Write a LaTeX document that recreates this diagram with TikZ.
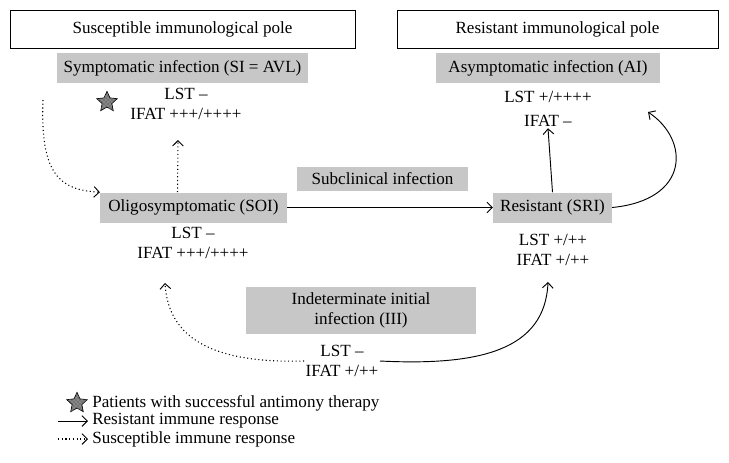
\documentclass[tikz,border=0pt]{standalone}
\usepackage{fontspec}
\setmainfont{Liberation Serif}
\usetikzlibrary{shapes,arrows.meta,positioning,patterns}

\begin{document}
\begin{tikzpicture}[
    x=0.75pt, y=-0.75pt,
    font=\fontsize{12.8}{15}\selectfont,
    pole/.style={rectangle, draw, line width=0.7pt, minimum height=28.5pt, inner sep=0pt},
    grey/.style={rectangle, fill=black!22, minimum height=22.5pt, inner sep=0pt},
    lab/.style={align=center, inner sep=1pt},
    res/.style={-{Straight Barb[length=4pt,width=8pt,line width=0.7pt]}, line width=0.7pt},
    sus/.style={-{Straight Barb[length=4pt,width=8pt,line width=0.7pt]}, line width=0.8pt, dotted},
    therapy/.style={star, star points=5, star point ratio=2.1, draw, line width=0.5pt, minimum size=16pt, inner sep=0pt, fill=black!55, postaction={pattern=crosshatch dots, pattern color=white!80!black}}
]
\useasboundingbox (0,0) rectangle (729,462);

% Poles
\node[pole, minimum width=258.75pt] (suspole) at (182.5,29) {Susceptible immunological pole};
\node[pole, minimum width=240.75pt] (respole) at (557.5,29) {Resistant immunological pole};

% Infection stages
\node[grey, minimum width=188pt] (si) at (182.5,68) {Symptomatic infection (SI = AVL)};
\node[lab] (silab) at (186,104) {LST --\\IFAT +++/++++};
\node[therapy] (star) at (107,102) {};

\node[grey, minimum width=168pt] (ai) at (548,68) {Asymptomatic infection (AI)};
\node[lab, align=center] (ailab) at (548,109) {LST +/++++\\[3pt]IFAT --};

\node[grey, minimum width=140pt] (soi) at (193.5,207.5) {Oligosymptomatic (SOI)};
\node[lab] (soilab) at (193,243) {LST --\\IFAT +++/++++};

\node[grey, minimum width=128pt, minimum height=18pt] (sub) at (382.5,179) {Subclinical infection};

\node[grey, minimum width=89pt] (sri) at (552.5,207.5) {Resistant (SRI)};
\node[lab] (srilab) at (553,250) {LST +/++\\IFAT +/++};

\node[grey, minimum width=172.5pt, minimum height=35pt, align=center] (iii) at (361,310.5) {Indeterminate initial\\infection (III)};
\node[lab] (iiilab) at (342,361) {LST --\\IFAT +/++};

% Free ends
\coordinate (sustart) at (43,100);
\coordinate (sitip) at (178,140);
\coordinate (aitip) at (648,112);
\coordinate (soitip) at (165,283);
\coordinate (sritip) at (548,282);

% Responses
\draw[res] (sri.north) -- (ailab.south);
\draw[res] (sri.east) .. controls (690,200) and (690,140) .. (aitip);
\draw[res] (soi.east) -- (sri.west);
\draw[res] (iiilab.east) .. controls (480,366) and (545,350) .. (sritip);
\draw[sus] (sustart) .. controls (40,175) and (60,190) .. (soi.north west);
\draw[sus] ([xshift=-12pt]soi.north) -- (sitip);
\draw[sus] (iiilab.west) .. controls (200,364) and (168,330) .. (soitip);

% Legend
\node[therapy] (legstar) at (77,403) {};
\node[anchor=west, inner sep=0pt] (legtxt1) at (92,403) {Patients with successful antimony therapy};
\node[anchor=west, inner sep=0pt] (legtxt2) at (92,421) {Resistant immune response};
\node[anchor=west, inner sep=0pt] (legtxt3) at (92,439) {Susceptible immune response};
\coordinate (legres) at (58,421);
\coordinate (legsus) at (58,439);
\draw[res, shorten >=3pt] (legres) -- (legtxt2.west);
\draw[sus, shorten >=3pt] (legsus) -- (legtxt3.west);

\end{tikzpicture}
\end{document}
